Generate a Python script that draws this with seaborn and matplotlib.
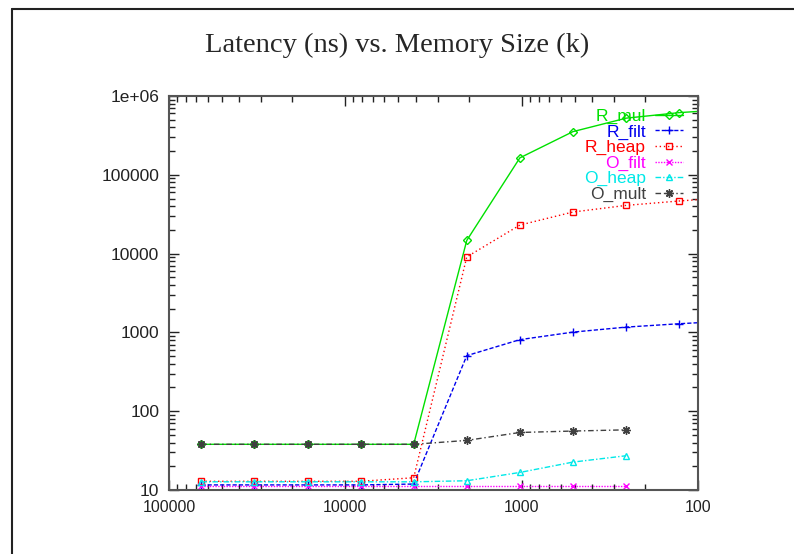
import matplotlib
matplotlib.use("Agg")
import matplotlib.pyplot as plt
from matplotlib.lines import Line2D
from matplotlib.ticker import LogLocator, NullFormatter
import pandas as pd
import seaborn as sns

# Memory sizes (k); the R_* runs go one step further down to 64
SIZES_R = [65536, 32768, 16384, 8192, 4096, 2048, 1024, 512, 256, 128, 64]
SIZES_O = [65536, 32768, 16384, 8192, 4096, 2048, 1024, 512, 256]

R_MUL = [38, 38, 38, 38, 38, 14700, 164000, 353000, 523000, 615000, 680000]
R_FILT = [11.6, 11.6, 11.6, 11.6, 11.9, 507, 809, 1008, 1167, 1288, 1400]
R_HEAP = [12.9, 12.9, 12.9, 12.9, 14.3, 9080, 23000, 33700, 40900, 46500, 52000]
O_FILT = [11.3, 11.3, 11.3, 11.3, 11.3, 11.3, 11.3, 11.3, 11.3]
O_HEAP = [12.7, 12.7, 12.7, 12.7, 12.7, 13.1, 16.7, 22.6, 27.2]
O_MULT = [38, 38, 38, 38, 38, 42.6, 53.7, 56, 58]

SERIES = [
    ("R_mul", SIZES_R, R_MUL),
    ("R_filt", SIZES_R, R_FILT),
    ("R_heap", SIZES_R, R_HEAP),
    ("O_filt", SIZES_O, O_FILT),
    ("O_heap", SIZES_O, O_HEAP),
    ("O_mult", SIZES_O, O_MULT),
]

STYLES = {
    "R_mul": {"color": "#00e000", "marker": "D", "ms": 4, "dashes": (None, None)},
    "R_filt": {"color": "#0000ee", "marker": "+", "ms": 6, "dashes": (3, 1.5)},
    "R_heap": {"color": "#ff0000", "marker": "s", "ms": 5, "dashes": (1, 2)},
    "O_filt": {"color": "#ff00ff", "marker": "x", "ms": 4.5, "dashes": (1, 1)},
    "O_heap": {"color": "#00e8e8", "marker": "^", "ms": 5, "dashes": (4, 1.5, 1, 1.5)},
    "O_mult": {"color": "#404040", "marker": (8, 2, 0), "ms": 6, "dashes": (4, 2, 1, 2)},
}

sns.set_style("ticks")
plt.rcParams["font.family"] = ["Liberation Sans", "DejaVu Sans"]
plt.rcParams["xtick.direction"] = "in"
plt.rcParams["ytick.direction"] = "in"

fig = plt.figure(figsize=(7.94, 5.54), dpi=100)
ax = fig.add_axes([169 / 794, 1 - 490 / 554, (698 - 169) / 794, (490 - 96) / 554])

for name, sizes, values in SERIES:
    st = STYLES[name]
    frame = pd.DataFrame({"size": sizes, "latency": values})
    line_kw = {}
    if st["dashes"][0] is not None:
        line_kw["dashes"] = st["dashes"]
    sns.lineplot(
        data=frame,
        x="size",
        y="latency",
        ax=ax,
        color=st["color"],
        marker=st["marker"],
        markersize=st["ms"],
        markerfacecolor="none" if st["marker"] in ("D", "s", "^") else st["color"],
        markeredgecolor=st["color"],
        markeredgewidth=1.0,
        linewidth=1.0,
        label=name,
        sort=False,
        **line_kw,
    )

ax.set_xscale("log")
ax.set_yscale("log")
ax.set_xlim(100000, 100)
ax.set_ylim(10, 1e6)
ax.set_xticks([100000, 10000, 1000, 100])
ax.set_xticklabels(["100000", "10000", "1000", "100"])
ax.set_yticks([10, 100, 1000, 10000, 100000, 1e6])
ax.set_yticklabels(["10", "100", "1000", "10000", "100000", "1e+06"])
ax.xaxis.set_minor_locator(LogLocator(base=10, subs=range(2, 10)))
ax.yaxis.set_minor_locator(LogLocator(base=10, subs=range(2, 10)))
ax.xaxis.set_minor_formatter(NullFormatter())
ax.yaxis.set_minor_formatter(NullFormatter())
ax.tick_params(which="both", top=True, right=True, color="#222222", width=1.0,
               labelcolor="#222222")
ax.tick_params(which="major", length=7)
ax.tick_params(which="minor", length=4)
ax.tick_params(axis="y", pad=7, labelsize=12.5)
ax.tick_params(axis="x", pad=7, labelsize=11.5)
ax.set_xlabel("")
ax.set_ylabel("")
for spine in ax.spines.values():
    spine.set_color("#555555")
    spine.set_linewidth(1.5)

leg = ax.legend(
    loc="upper right",
    bbox_to_anchor=(0.972, 0.968),
    markerfirst=False,
    frameon=False,
    fontsize=12.5,
    labelcolor="linecolor",
    handlelength=1.6,
    handletextpad=0.55,
    labelspacing=0.02,
    borderpad=0,
    borderaxespad=0,
)

fig.text(0.5, 1 - 45 / 554, "Latency (ns) vs. Memory Size (k)",
         ha="center", va="center", fontsize=20.5,
         family=["Liberation Serif", "DejaVu Serif"])

# page frame
fig.add_artist(Line2D([12 / 794, 12 / 794], [0, 1 - 9 / 554],
                      transform=fig.transFigure, color="#222222", lw=1.5))
fig.add_artist(Line2D([12 / 794, 1], [1 - 9 / 554, 1 - 9 / 554],
                      transform=fig.transFigure, color="#222222", lw=1.5))

fig.savefig("out.png", dpi=100)
